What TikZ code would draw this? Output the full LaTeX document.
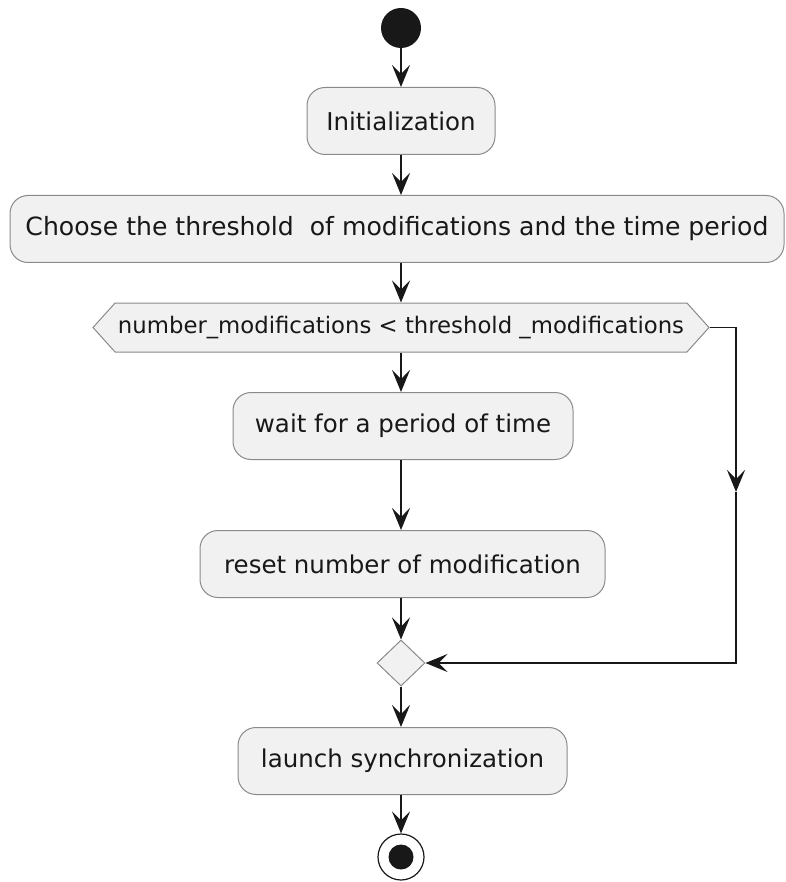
\documentclass[tikz,border=0pt]{standalone}
\usepackage{fontspec}
\setmainfont{DejaVu Sans}
\usetikzlibrary{arrows.meta,shapes.geometric,shapes.symbols}
\definecolor{boxfill}{HTML}{F1F1F1}
\definecolor{boxline}{HTML}{8A8A8A}
\definecolor{ink}{HTML}{181818}
\begin{document}
\begin{tikzpicture}[x=1pt,y=-1pt,
  act/.style={draw=boxline, fill=boxfill, rounded corners=18pt, line width=1pt,
    minimum height=67pt, inner sep=0pt, text=ink, font=\fontsize{24.5}{28}\selectfont},
  flow/.style={draw=ink, line width=1.5pt, -{Stealth[length=22pt,width=18pt,inset=9pt]}},
  plain/.style={draw=ink, line width=1.5pt}
]
\useasboundingbox (0,0) rectangle (785,882);
\node[circle, fill=ink, minimum size=40pt, inner sep=0pt] (start) at (401,28) {};
\node[act, minimum width=188pt] (init) at (401,121) {Initialization};
\node[act, minimum width=774pt] (choose) at (397,229) {\resizebox{743pt}{!}{Choose the threshold\ \ of modifications and the time period}};
\node[draw=boxline, fill=boxfill, line width=1pt, signal, signal to=west and east,
  signal pointer angle=96, minimum width=616pt, minimum height=49pt, inner sep=0pt,
  text=ink, font=\fontsize{22.5}{26}\selectfont] (cond) at (401,327.5)
  {\resizebox{566pt}{!}{number\_modifications < threshold \_modifications}};
\node[act, minimum width=340pt] (wait) at (403,426) {wait for a period of time};
\node[act, minimum width=405pt] (reset) at (402.5,564) {reset number of modification};
\node[diamond, draw=boxline, fill=boxfill, line width=1pt, minimum width=48pt,
  minimum height=46pt, inner sep=0pt] (merge) at (401,663) {};
\node[act, minimum width=329pt] (launch) at (402.5,761) {launch synchronization};
\node[circle, draw=ink, fill=white, line width=1.2pt, minimum size=46pt, inner sep=0pt] (stop) at (401,857) {};
\node[circle, fill=ink, minimum size=25pt, inner sep=0pt] (stopin) at (stop.center) {};
\coordinate (rt) at (736,327.5);
\coordinate (rmid) at (736,492);
\coordinate (rbot) at (736,663);
\path[flow] (start) -- (init);
\path[flow] (init.south) -- (init.south |- choose.north);
\path[flow] (choose.south -| cond.north) -- (cond.north);
\path[flow] (cond.south) -- (cond.south |- wait.north);
\path[flow] (cond.south |- wait.south) -- (cond.south |- reset.north);
\path[flow] (cond.south |- reset.south) -- (merge.north);
\path[flow] (cond.east) -- (rt) -- (rmid);
\path[flow] (rmid) -- (rbot) -- (merge.east);
\path[flow] (merge.south) -- (merge.south |- launch.north);
\path[flow] (merge.south |- launch.south) -- (stop.north);
\end{tikzpicture}
\end{document}
